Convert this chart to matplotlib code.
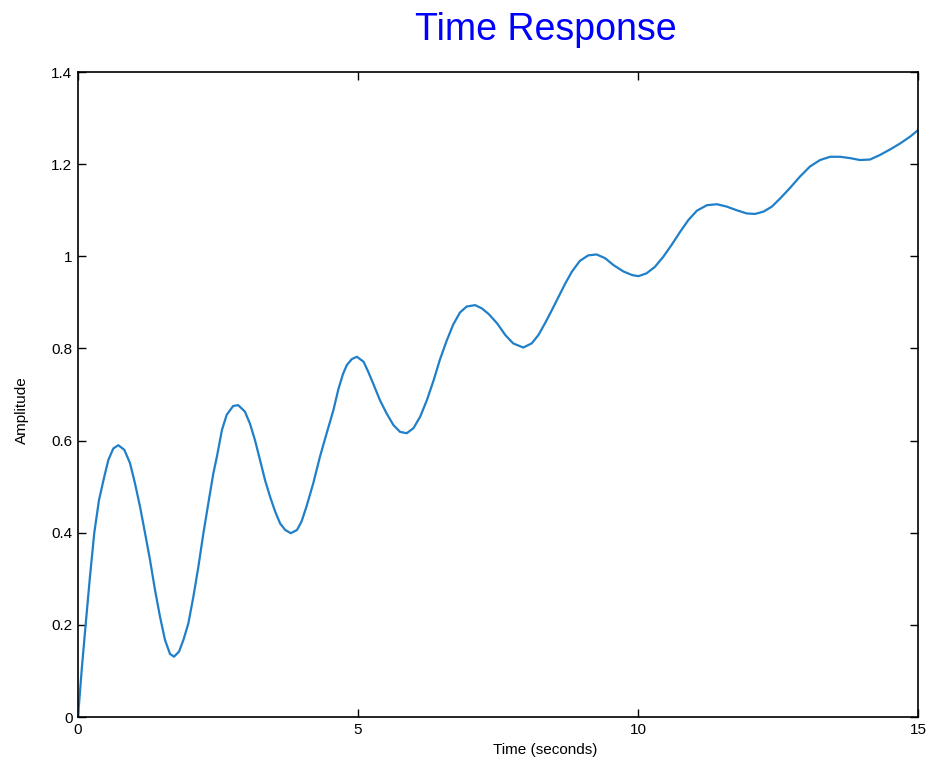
import matplotlib.pyplot as plt

plt.rcParams["font.family"] = ["Liberation Sans", "DejaVu Sans"]

# values
time_s = [0.0, 0.066, 0.137, 0.214, 0.291, 0.375, 0.470, 0.542, 0.631, 0.720,
          0.827, 0.929, 1.018, 1.107, 1.196, 1.286, 1.375, 1.464, 1.554,
          1.643, 1.714, 1.804, 1.881, 1.970, 2.060, 2.149, 2.238, 2.327,
          2.417, 2.48, 2.57, 2.655, 2.77, 2.86, 2.98, 3.07, 3.16, 3.25, 3.34,
          3.43, 3.52, 3.61, 3.70, 3.80, 3.91, 3.99, 4.08, 4.20, 4.32, 4.44,
          4.56, 4.65, 4.73, 4.80, 4.89, 4.98, 5.10, 5.18, 5.27, 5.39, 5.51,
          5.63, 5.75, 5.87, 5.99, 6.11, 6.23, 6.35, 6.46, 6.58, 6.70, 6.82,
          6.94, 7.09, 7.21, 7.33, 7.48, 7.63, 7.77, 7.95, 8.10, 8.22, 8.34,
          8.46, 8.58, 8.70, 8.82, 8.96, 9.11, 9.26, 9.41, 9.56, 9.74, 9.90,
          10.01, 10.15, 10.30, 10.45, 10.60, 10.75, 10.90, 11.05, 11.23,
          11.41, 11.58, 11.76, 11.94, 12.09, 12.24, 12.39, 12.54, 12.71,
          12.89, 13.07, 13.25, 13.43, 13.61, 13.79, 13.96, 14.14, 14.32,
          14.50, 14.68, 14.86, 15.0]
amplitude = [0.0, 0.102, 0.201, 0.305, 0.400, 0.471, 0.522, 0.558, 0.583,
             0.590, 0.580, 0.551, 0.507, 0.457, 0.400, 0.341, 0.276, 0.218,
             0.167, 0.137, 0.131, 0.142, 0.167, 0.203, 0.261, 0.326, 0.398,
             0.464, 0.529, 0.565, 0.623, 0.656, 0.675, 0.677, 0.663, 0.637,
             0.601, 0.558, 0.514, 0.478, 0.446, 0.420, 0.406, 0.399, 0.406,
             0.424, 0.457, 0.507, 0.565, 0.616, 0.666, 0.712, 0.744, 0.764,
             0.777, 0.782, 0.771, 0.750, 0.724, 0.688, 0.659, 0.634, 0.619,
             0.616, 0.627, 0.652, 0.688, 0.731, 0.775, 0.816, 0.852, 0.878,
             0.891, 0.894, 0.887, 0.875, 0.855, 0.829, 0.811, 0.802, 0.811,
             0.829, 0.855, 0.883, 0.912, 0.941, 0.967, 0.990, 1.002, 1.004,
             0.996, 0.981, 0.967, 0.959, 0.957, 0.963, 0.977, 0.999, 1.025,
             1.053, 1.079, 1.099, 1.111, 1.113, 1.108, 1.100, 1.093, 1.092,
             1.097, 1.108, 1.126, 1.148, 1.173, 1.195, 1.209, 1.216, 1.216,
             1.213, 1.209, 1.210, 1.220, 1.232, 1.245, 1.260, 1.274]

x_ticks = [0, 5, 10, 15]
y_ticks = [0, 0.2, 0.4, 0.6, 0.8, 1.0, 1.2, 1.4]
y_tick_labels = ["0", "0.2", "0.4", "0.6", "0.8", "1", "1.2", "1.4"]

fig = plt.figure(figsize=(9.34, 7.62), dpi=100)
ax = fig.add_axes([0.0835, 0.059, 0.8995, 0.8465])

ax.plot(time_s, amplitude, color="#1f7fc8", linewidth=1.6,
        solid_joinstyle="round")

ax.set_xlim(0, 15)
ax.set_ylim(0, 1.4)
ax.set_xticks(x_ticks)
ax.set_yticks(y_ticks)
ax.set_yticklabels(y_tick_labels)
ax.tick_params(direction="in", top=True, right=True, length=6, width=1,
               labelsize=11, pad=4)
for s in ax.spines.values():
    s.set_linewidth(1.2)

fig.text(0.584, 0.960, "Time Response", color="blue", fontsize=27,
         ha="center", va="center")
fig.text(0.584, 0.016, "Time (seconds)", fontsize=11, ha="center", va="center")
fig.text(0.024, 0.462, "Amplitude", fontsize=11, rotation=90,
         ha="center", va="center")

fig.savefig("out.png", dpi=100)
